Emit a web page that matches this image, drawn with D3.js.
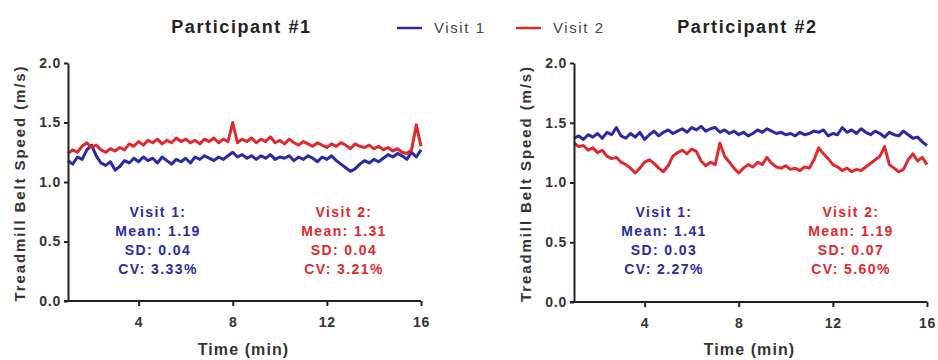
<!DOCTYPE html>
<html>
<head>
<meta charset="utf-8">
<script src="https://cdn.jsdelivr.net/npm/d3@7"></script>
<style>
    body { margin: 0; background: #fff; }
    svg text { font-family: "Liberation Sans", Arial, sans-serif; }
</style>
</head>
<body>
<div class="chart"><svg width="938" height="360"></svg></div>
<script>
// time points (min)
var timeMin = [1.0, 1.2, 1.4, 1.6, 1.8, 2.0, 2.2, 2.4, 2.6, 2.8,
    3.0, 3.2, 3.4, 3.6, 3.8, 4.0, 4.2, 4.4, 4.6, 4.8,
    5.0, 5.2, 5.4, 5.6, 5.8, 6.0, 6.2, 6.4, 6.6, 6.8,
    7.0, 7.2, 7.4, 7.6, 7.8, 8.0, 8.2, 8.4, 8.6, 8.8,
    9.0, 9.2, 9.4, 9.6, 9.8, 10.0, 10.2, 10.4, 10.6, 10.8,
    11.0, 11.2, 11.4, 11.6, 11.8, 12.0, 12.2, 12.4, 12.6, 12.8,
    13.0, 13.2, 13.4, 13.6, 13.8, 14.0, 14.2, 14.4, 14.6, 14.8,
    15.0, 15.2, 15.4, 15.6, 15.8, 16.0];

// Participant #1 belt speed (m/s)
var p1Visit1 = [1.18, 1.15, 1.21, 1.19, 1.27, 1.31, 1.22, 1.16, 1.14, 1.17,
    1.10, 1.13, 1.18, 1.16, 1.20, 1.17, 1.21, 1.18, 1.20, 1.16,
    1.21, 1.18, 1.15, 1.19, 1.17, 1.20, 1.16, 1.21, 1.19, 1.22,
    1.20, 1.18, 1.21, 1.19, 1.22, 1.25, 1.21, 1.23, 1.20, 1.22,
    1.19, 1.22, 1.20, 1.23, 1.19, 1.21, 1.20, 1.22, 1.18, 1.21,
    1.19, 1.22, 1.20, 1.17, 1.21, 1.19, 1.22, 1.18, 1.15, 1.12,
    1.09, 1.11, 1.15, 1.18, 1.16, 1.19, 1.17, 1.20, 1.23, 1.21,
    1.24, 1.22, 1.19, 1.25, 1.21, 1.27];
var p1Visit2 = [1.24, 1.27, 1.25, 1.30, 1.33, 1.29, 1.31, 1.27, 1.25, 1.28,
    1.26, 1.29, 1.27, 1.32, 1.30, 1.34, 1.31, 1.35, 1.33, 1.36,
    1.32, 1.35, 1.33, 1.37, 1.34, 1.36, 1.33, 1.35, 1.32, 1.36,
    1.34, 1.37, 1.33, 1.36, 1.34, 1.50, 1.33, 1.36, 1.34, 1.37,
    1.33, 1.36, 1.34, 1.38, 1.33, 1.35, 1.32, 1.36, 1.33, 1.31,
    1.34, 1.32, 1.30, 1.33, 1.31, 1.29, 1.32, 1.30, 1.33, 1.31,
    1.28, 1.32, 1.30, 1.29, 1.31, 1.28, 1.30, 1.27, 1.29, 1.26,
    1.28, 1.25, 1.24, 1.27, 1.48, 1.30];

// Participant #2 belt speed (m/s)
var p2Visit1 = [1.37, 1.39, 1.36, 1.40, 1.38, 1.41, 1.37, 1.42, 1.40, 1.46,
    1.39, 1.37, 1.41, 1.38, 1.42, 1.36, 1.40, 1.43, 1.39, 1.42,
    1.44, 1.41, 1.43, 1.45, 1.42, 1.46, 1.44, 1.47, 1.43, 1.45,
    1.46, 1.42, 1.44, 1.41, 1.43, 1.40, 1.42, 1.39, 1.41, 1.44,
    1.42, 1.45, 1.43, 1.41, 1.42, 1.40, 1.41, 1.39, 1.42, 1.40,
    1.41, 1.43, 1.42, 1.44, 1.39, 1.41, 1.40, 1.46, 1.42, 1.44,
    1.41, 1.45, 1.42, 1.40, 1.43, 1.41, 1.38, 1.42, 1.40, 1.39,
    1.43, 1.40, 1.37, 1.38, 1.34, 1.31];
var p2Visit2 = [1.33, 1.30, 1.31, 1.27, 1.29, 1.25, 1.27, 1.22, 1.20, 1.21,
    1.17, 1.15, 1.12, 1.08, 1.12, 1.17, 1.19, 1.16, 1.12, 1.09,
    1.14, 1.22, 1.25, 1.27, 1.24, 1.28, 1.26, 1.18, 1.14, 1.17,
    1.15, 1.33, 1.22, 1.17, 1.12, 1.08, 1.12, 1.15, 1.13, 1.17,
    1.15, 1.21, 1.16, 1.13, 1.12, 1.14, 1.11, 1.12, 1.10, 1.13,
    1.12, 1.19, 1.29, 1.24, 1.20, 1.15, 1.13, 1.10, 1.12, 1.09,
    1.11, 1.10, 1.13, 1.16, 1.19, 1.22, 1.30, 1.15, 1.12, 1.09,
    1.11, 1.19, 1.24, 1.18, 1.21, 1.15];

var participants = ["Participant #1", "Participant #2"];
var visitNames = ["Visit 1", "Visit 2"];
var visitColors = ["#2a2aa4", "#e0292e"];
var xTicks = [4, 8, 12, 16];
var yTicks = [0.0, 0.5, 1.0, 1.5, 2.0];

var statsP1 = [["Visit 1:", "Mean: 1.19", "SD: 0.04", "CV: 3.33%"],
               ["Visit 2:", "Mean: 1.31", "SD: 0.04", "CV: 3.21%"]];
var statsP2 = [["Visit 1:", "Mean: 1.41", "SD: 0.03", "CV: 2.27%"],
               ["Visit 2:", "Mean: 1.19", "SD: 0.07", "CV: 5.60%"]];

var svg = d3.select(".chart").select("svg");

var panels = [
    { title: participants[0], series: [p1Visit1, p1Visit2], stats: statsP1, left: 68, right: 421, top: 63, bottom: 301, statX: [158, 344] },
    { title: participants[1], series: [p2Visit1, p2Visit2], stats: statsP2, left: 574, right: 927, top: 63, bottom: 302, statX: [664, 851] }
];

panels.forEach(function (p) {
    var x = d3.scaleLinear().domain([1, 16]).range([p.left, p.right]);
    var y = d3.scaleLinear().domain([0, 2]).range([p.bottom, p.top]);
    var g = svg.append("g");

    /*
        Lines
    */
    var line = d3.line()
        .x(function (d, i) { return x(timeMin[i]); })
        .y(function (d) { return y(d); });
    p.series.forEach(function (vals, k) {
        g.append("path")
            .datum(vals)
            .attr("fill", "none")
            .attr("stroke", visitColors[k])
            .attr("stroke-width", 3)
            .attr("stroke-linejoin", "round")
            .attr("d", line);
    });

    /*
        Axes
    */
    var yAxis = g.append("g")
        .attr("transform", "translate(" + p.left + ",0)")
        .call(d3.axisLeft(y).tickValues(yTicks).tickFormat(d3.format(".1f")).tickSize(4).tickSizeOuter(0));
    var xAxis = g.append("g")
        .attr("transform", "translate(0," + p.bottom + ")")
        .call(d3.axisBottom(x).tickValues(xTicks).tickSize(5).tickSizeOuter(0));
    xAxis.select(".domain").attr("d", "M" + (p.left - 4) + ",0H" + p.right);
    [xAxis, yAxis].forEach(function (ax) {
        ax.select(".domain").attr("stroke", "#222").attr("stroke-width", 2);
        ax.selectAll(".tick line").attr("stroke", "#222").attr("stroke-width", 2);
        ax.selectAll("text")
            .attr("font-size", 14)
            .attr("font-weight", "bold")
            .attr("letter-spacing", 0.8)
            .attr("fill", "#333");
    });
    xAxis.selectAll("text").attr("dy", "1.3em");

    g.append("text")
        .attr("x", (p.left + p.right) / 2 - 1)
        .attr("y", 355)
        .attr("text-anchor", "middle")
        .attr("font-size", 16)
        .attr("font-weight", "bold")
        .attr("letter-spacing", 1.1)
        .attr("fill", "#333")
        .text("Time (min)");

    g.append("text")
        .attr("transform", "translate(" + (p.left - 43) + "," + ((p.top + p.bottom) / 2 + 1) + ") rotate(-90)")
        .attr("text-anchor", "middle")
        .attr("font-size", 15)
        .attr("font-weight", "bold")
        .attr("letter-spacing", 1.9)
        .attr("fill", "#333")
        .text("Treadmill  Belt Speed (m/s)");

    g.append("text")
        .attr("x", (p.left + p.right) / 2 - 3)
        .attr("y", 33)
        .attr("text-anchor", "middle")
        .attr("font-size", 18)
        .attr("font-weight", "bold")
        .attr("letter-spacing", 1.6)
        .attr("fill", "#222")
        .text(p.title);

    /*
        Stats
    */
    p.stats.forEach(function (lines, k) {
        g.append("g").selectAll("text")
            .data(lines)
            .enter().append("text")
            .attr("x", p.statX[k])
            .attr("y", function (d, i) { return 217 + i * 19; })
            .attr("text-anchor", "middle")
            .attr("font-size", 14)
            .attr("font-weight", "bold")
            .attr("letter-spacing", 1.4)
            .attr("fill", visitColors[k])
            .text(function (d) { return d; });
    });
});

/*
    Legend
*/
var legend = svg.append("g").selectAll("g")
    .data(visitNames)
    .enter().append("g")
    .attr("transform", function (d, i) { return "translate(" + (397 + i * 119) + ",28)"; });
legend.append("line")
    .attr("x1", 0).attr("x2", 25)
    .attr("stroke", function (d, i) { return visitColors[i]; })
    .attr("stroke-width", 2.5);
legend.append("text")
    .attr("x", 37)
    .attr("dy", ".35em")
    .attr("font-size", 15)
    .attr("letter-spacing", 1.6)
    .attr("fill", "#444")
    .text(function (d) { return d; });
</script>
</body>
</html>
